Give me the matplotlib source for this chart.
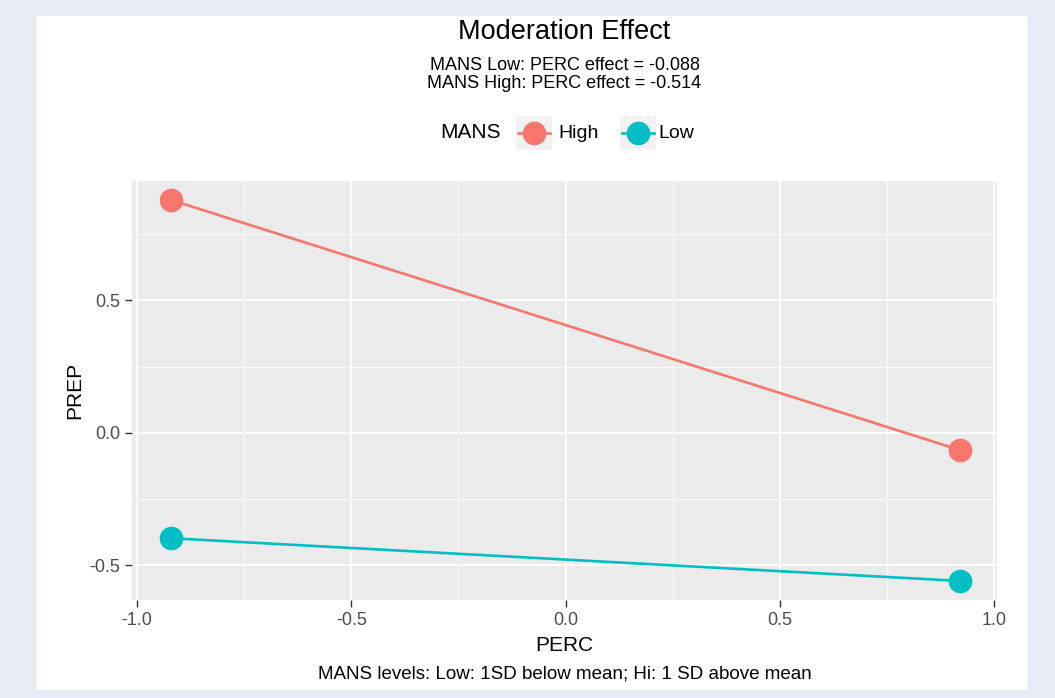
import matplotlib
matplotlib.use("Agg")
import matplotlib.pyplot as plt
from matplotlib.patches import Rectangle
from matplotlib.lines import Line2D
from matplotlib.ticker import FixedLocator

# ---- data ----
perc_levels = [-0.92, 0.92]
groups = ["High", "Low"]
prep_high = [0.878, -0.065]
prep_low = [-0.398, -0.559]
colors = {"High": "#F8766D", "Low": "#00BFC4"}
x_ticks = [-1.0, -0.5, 0.0, 0.5, 1.0]
x_tick_labels = ["-1.0", "-0.5", "0.0", "0.5", "1.0"]
y_ticks = [-0.5, 0.0, 0.5]
y_tick_labels = ["-0.5", "0.0", "0.5"]
title = "Moderation Effect"
subtitle = ["MANS Low: PERC effect = -0.088", "MANS High: PERC effect = -0.514"]
caption = "MANS levels: Low: 1SD below mean; Hi: 1 SD above mean"

plt.rcParams['font.family'] = ['Liberation Sans', 'DejaVu Sans']

W, H = 1055, 698
fig = plt.figure(figsize=(W / 100, H / 100), dpi=100)
fig.patch.set_facecolor("#E7EBF6")

def fx(px):
    return px / W

def fy(py):
    return 1 - py / H

# white inner panel
fig.add_artist(Rectangle((fx(36), fy(690)), fx(1028) - fx(36), fy(16) - fy(690),
                         transform=fig.transFigure, facecolor="white", edgecolor="none", zorder=0))

ax = fig.add_axes([fx(132), fy(600), fx(997) - fx(132), fy(181) - fy(600)])
ax.set_facecolor("#EBEBEB")
for s in ax.spines.values():
    s.set_visible(False)

ax.set_xlim(-1.012, 1.007)
ax.set_ylim(-0.631, 0.950)
ax.set_xticks(x_ticks)
ax.set_yticks(y_ticks)
ax.xaxis.set_minor_locator(FixedLocator([-0.75, -0.25, 0.25, 0.75]))
ax.yaxis.set_minor_locator(FixedLocator([-0.25, 0.25, 0.75]))
ax.grid(which="major", color="white", linewidth=1.3)
ax.grid(which="minor", color="white", linewidth=0.6)
ax.set_axisbelow(True)
ax.tick_params(which="minor", length=0)
ax.tick_params(which="major", length=5, width=1, color="#333333", labelcolor="#4D4D4D",
               labelsize=13)
ax.set_xticklabels(x_tick_labels)
ax.set_yticklabels(y_tick_labels)

for g, vals in zip(groups, [prep_high, prep_low]):
    ax.plot(perc_levels, vals, color=colors[g], linewidth=1.9, zorder=3)
    ax.plot(perc_levels, vals, linestyle="none", marker="o", markersize=16,
            color=colors[g], zorder=4)

ax.set_xlabel("PERC", fontsize=15, labelpad=5)
ax.set_ylabel("PREP", fontsize=15, labelpad=4)

cx = (132 + 997) / 2
fig.text(fx(cx), fy(32), title, ha="center", va="center", fontsize=19.5)
fig.text(fx(cx), fy(66), subtitle[0], ha="center", va="center", fontsize=13)
fig.text(fx(cx), fy(84), subtitle[1], ha="center", va="center", fontsize=13)
fig.text(fx(cx), fy(674), caption, ha="center", va="center", fontsize=13.5)

# legend (manual)
ly = 133
fig.text(fx(440), fy(ly), "MANS", ha="left", va="center", fontsize=15)
for key_x, g, label_x in [(516, "High", 558), (620, "Low", 658)]:
    fig.add_artist(Rectangle((fx(key_x), fy(ly + 17)), fx(36), 34 / H,
                             transform=fig.transFigure, facecolor="#F2F2F2",
                             edgecolor="none"))
    fig.add_artist(Line2D([fx(key_x + 2), fx(key_x + 34)], [fy(ly), fy(ly)],
                          transform=fig.transFigure, color=colors[g], linewidth=1.9))
    fig.add_artist(Line2D([fx(key_x + 18)], [fy(ly)], transform=fig.transFigure,
                          marker="o", markersize=16, color=colors[g], linestyle="none"))
    fig.text(fx(label_x), fy(ly), g, ha="left", va="center", fontsize=14)

fig.savefig("out.png", dpi=100, facecolor=fig.get_facecolor())
